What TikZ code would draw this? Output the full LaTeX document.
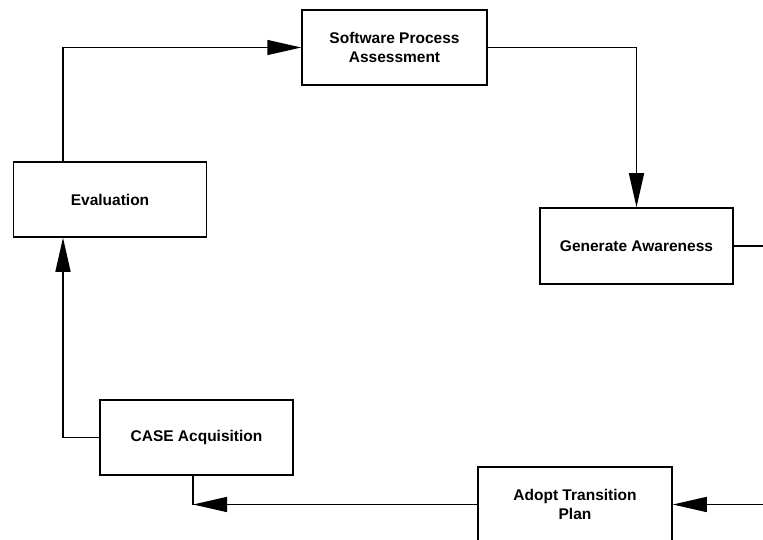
\documentclass[tikz,border=0pt]{standalone}
\usepackage{fontspec}
\setmainfont{Liberation Sans}
\usetikzlibrary{arrows.meta}
\begin{document}
\begin{tikzpicture}[x=1pt,y=-1pt,
  box/.style={draw, line width=1.5pt, minimum width=193pt, minimum height=75pt, inner sep=0pt,
    align=center, font=\fontsize{15.5}{19}\selectfont\bfseries},
  conn/.style={line width=1.5pt},
  arr/.style={conn, -{Triangle[length=34pt,width=15pt]}}]
\useasboundingbox (0,0) rectangle (763,540);
\node[box, minimum width=185pt] (spa) at (394.5,47.5) {Software Process\\Assessment};
\node[box] (eval) at (110,199.5) {Evaluation};
\node[box, minimum height=76pt] (ga) at (636.5,246) {Generate Awareness};
\node[box] (case) at (196.5,437.5) {CASE Acquisition};
\node[box, minimum width=194pt] (atp) at (575,504.5) {Adopt Transition\\Plan};
\coordinate (gaout) at (763,246);
\coordinate (atpin) at (763,504.5);
\coordinate (corner) at (193,504.5);
\draw[arr] ([xshift=-47pt]eval.north) |- (spa.west);
\draw[arr] (spa.east) -| (ga.north);
\draw[conn] (ga.east) -- (gaout);
\draw[arr] (atpin) -- (atp.east);
\draw[arr] (atp.west) -- (corner);
\draw[conn] (corner) -- (corner |- case.south);
\draw[arr] (case.west) -| ([xshift=-47pt]eval.south);
\end{tikzpicture}
\end{document}
